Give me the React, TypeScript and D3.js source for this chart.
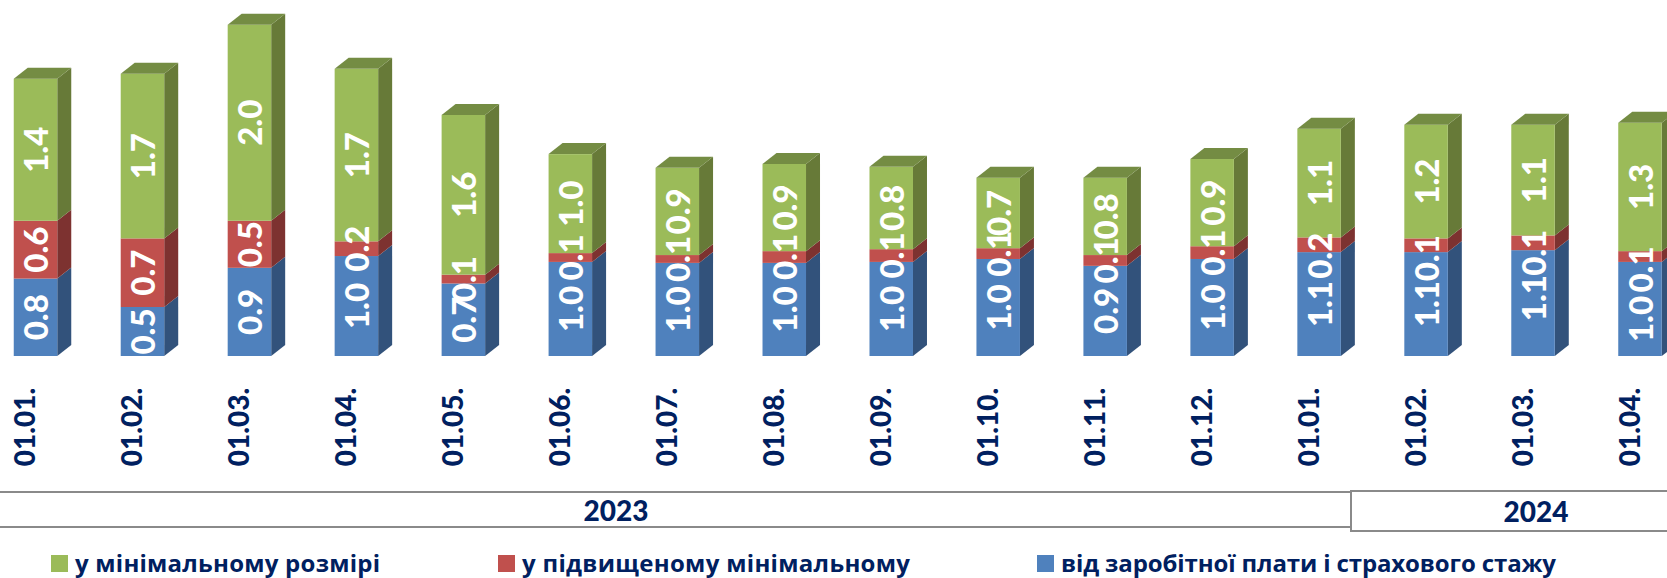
import * as d3 from "d3";

const dates = ["01.01.", "01.02.", "01.03.", "01.04.", "01.05.", "01.06.", "01.07.", "01.08.", "01.09.", "01.10.", "01.11.", "01.12.", "01.01.", "01.02.", "01.03.", "01.04."];
const wage = [0.79, 0.5, 0.9, 1.02, 0.74, 0.96, 0.95, 0.95, 0.96, 0.99, 0.92, 0.99, 1.06, 1.06, 1.08, 0.96];
const raised = [0.59, 0.7, 0.48, 0.15, 0.09, 0.09, 0.08, 0.12, 0.13, 0.11, 0.11, 0.13, 0.15, 0.14, 0.15, 0.11];
const minimal = [1.45, 1.68, 2.0, 1.76, 1.63, 1.01, 0.89, 0.89, 0.84, 0.72, 0.79, 0.89, 1.11, 1.16, 1.13, 1.31];

// the printed labels, rounded by the source chart
const wageLabels = ["0.8", "0.5", "0.9", "1.0", "0.7", "1.0", "1.0", "1.0", "1.0", "1.0", "0.9", "1.0", "1.1", "1.1", "1.1", "1.0"];
const raisedLabels = ["0.6", "0.7", "0.5", "0.2", "0.1", "0.1", "0.1", "0.1", "0.1", "0.1", "0.1", "0.1", "0.2", "0.1", "0.1", "0.1"];
const minimalLabels = ["1.4", "1.7", "2.0", "1.7", "1.6", "1.0", "0.9", "0.9", "0.8", "0.7", "0.8", "0.9", "1.1", "1.2", "1.1", "1.3"];

const legendNames = ["у мінімальному розмірі", "у підвищеному мінімальному", "від заробітної плати і страхового стажу"];
const years = ["2023", "2024"];

const width = 1667;
const height = 578;
const barWidth = 43.5;
const depthX = 14;
const depthY = 11;
const navy = "#002060";
const valueFont = "Lato, 'Open Sans', sans-serif";
const textFont = "'Open Sans', 'Noto Sans', sans-serif";

const x = d3.scalePoint<number>().domain(dates.map((_, i) => i)).range([35.5, 1640]);
const y = d3.scaleLinear().domain([0, 3.6]).range([356, 3.2]);

const rows = dates.map((_, i) => ({ wage: wage[i], raised: raised[i], minimal: minimal[i] }));
const stack = d3.stack<any>().keys(["wage", "raised", "minimal"])(rows);

const front = ["#4F81BD", "#C0504D", "#9BBB59"];
const side = d3.scaleOrdinal<number, string>().domain([0, 1, 2]).range(["#32527B", "#7D3230", "#677A38"]);
const topFace = "#748C43";
const labelSets = [wageLabels, raisedLabels, minimalLabels];

// labels the source moved by hand, "series-bar": pixels down
const labelNudge: Record<string, number> = { "0-14": -5, "0-15": 10, "1-12": 11, "1-13": 13, "1-14": 10, "1-15": 13 };
const legendX = [51, 498, 1037];
const legendLength = [305, 388, 495];

const poly = d3.line();

export default function App() {
  return (
    <svg width={width} height={height} style={{ position: "absolute", left: 0, top: 0, background: "#fff" }}>
      {stack.map((layer, s) =>
        layer.map((d, i) => {
          const left = x(i)! - barWidth / 2;
          const right = left + barWidth;
          const y0 = y(d[0]);
          const y1 = y(d[1]);
          return (
            <g key={s + "-" + i}>
              <path
                d={poly([[right, y0], [right + depthX, y0 - depthY], [right + depthX, y1 - depthY], [right, y1]])!}
                fill={side(s)}
              />
              <rect x={left} y={y1} width={barWidth} height={y0 - y1} fill={front[s]} />
              {s === 2 && (
                <path
                  d={poly([[left, y1], [left + depthX, y1 - depthY], [right + depthX, y1 - depthY], [right, y1]])!}
                  fill={topFace}
                />
              )}
            </g>
          );
        })
      )}

      {stack.map((layer, s) =>
        layer.map((d, i) => (
          <text
            key={"v" + s + "-" + i}
            transform={`translate(${x(i)! + 1},${y((d[0] + d[1]) / 2) + (labelNudge[s + "-" + i] || 0)}) rotate(-90)`}
            textAnchor="middle"
            dy="0.36em"
            fontFamily={valueFont}
            fontWeight={900}
            fontSize={33}
            fill="#fff"
          >
            {labelSets[s][i]}
          </text>
        ))
      )}

      {dates.map((t, i) => (
        <text
          key={"d" + i}
          transform={`translate(${x(i)! - 10.5},427) rotate(-90)`}
          textAnchor="middle"
          dy="0.36em"
          fontFamily={valueFont}
          fontWeight={900}
          fontSize={28}
          fill={navy}
        >
          {t}
        </text>
      ))}

      <path d="M-5,492H1351V527H-5" fill="#fff" stroke="#8a8a8a" strokeWidth={2} />
      <rect x={1351} y={491} width={330} height={40} fill="#fff" stroke="#8a8a8a" strokeWidth={2} />
      <text x={616} y={521} textAnchor="middle" fontFamily={valueFont} fontWeight={900} fontSize={28} fill={navy}>
        {years[0]}
      </text>
      <text x={1536} y={522} textAnchor="middle" fontFamily={valueFont} fontWeight={900} fontSize={28} fill={navy}>
        {years[1]}
      </text>

      {legendNames.map((name, i) => (
        <g key={name}>
          <rect x={legendX[i]} y={555} width={17} height={17} fill={front[2 - i]} />
          <text
            x={legendX[i] + 24}
            y={571.5}
            textLength={legendLength[i]}
            lengthAdjust="spacing"
            fontFamily={textFont}
            fontWeight={700}
            fontSize={24}
            fill={navy}
          >
            {name}
          </text>
        </g>
      ))}
    </svg>
  );
}
